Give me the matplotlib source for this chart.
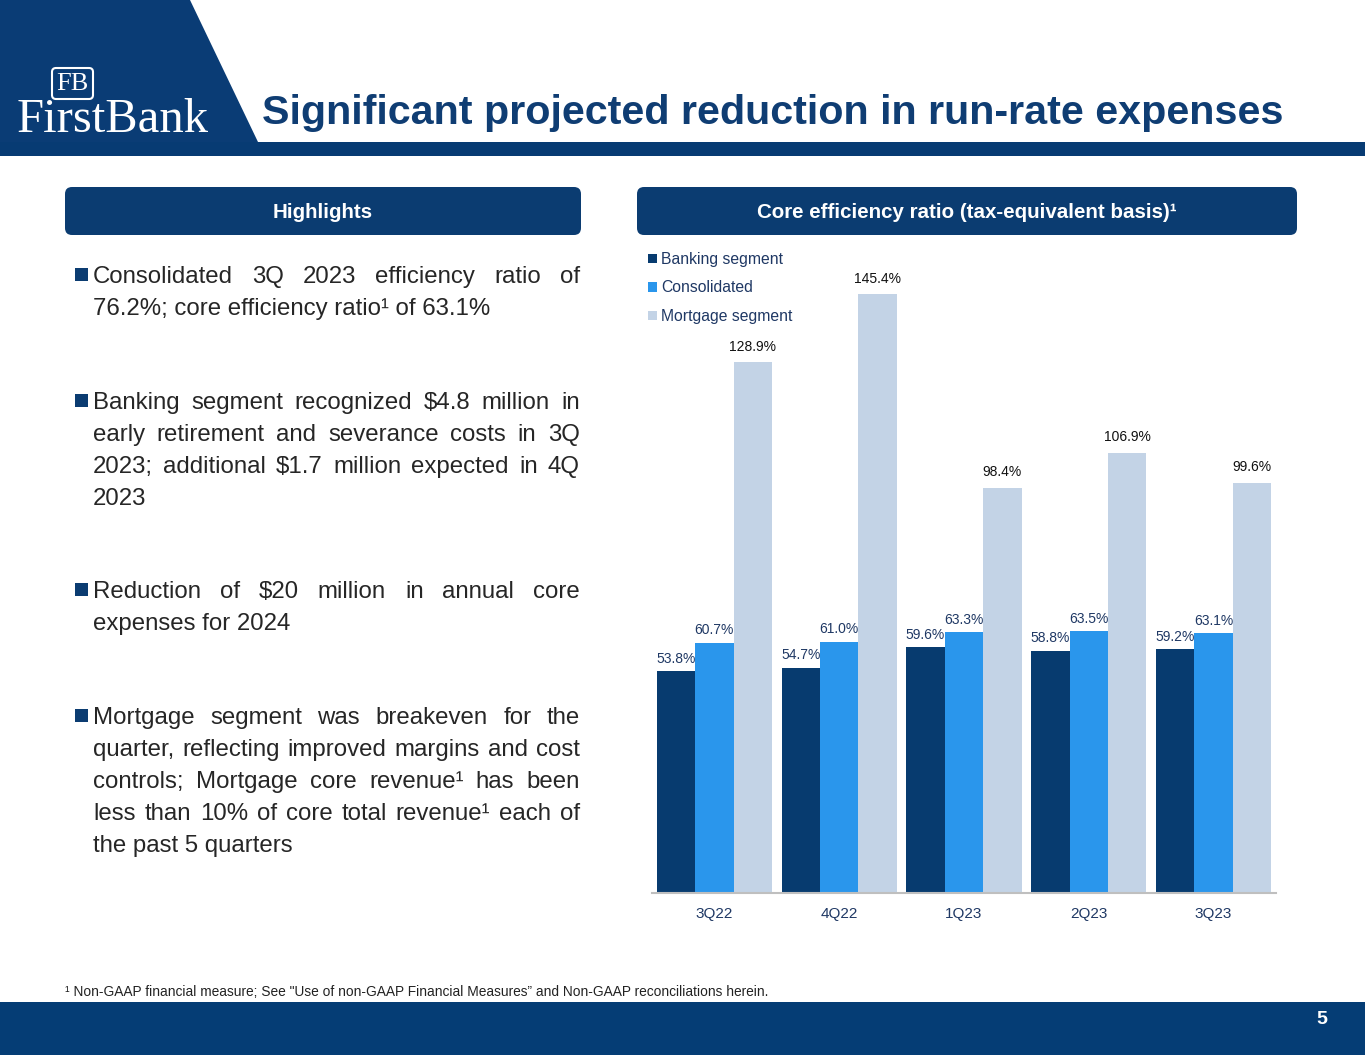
import matplotlib
matplotlib.use('Agg')
import matplotlib.pyplot as plt
from matplotlib.patches import Polygon, Rectangle, FancyBboxPatch
import numpy as np

plt.rcParams['font.family'] = ['Liberation Sans', 'DejaVu Sans']

# data
quarters = ['3Q22', '4Q22', '1Q23', '2Q23', '3Q23']
banking = [53.8, 54.7, 59.6, 58.8, 59.2]
consolidated = [60.7, 61.0, 63.3, 63.5, 63.1]
mortgage = [128.9, 145.4, 98.4, 106.9, 99.6]
series_names = ['Banking segment', 'Consolidated', 'Mortgage segment']

bullets = [
    ['Consolidated 3Q 2023 efficiency ratio of',
     '76.2%; core efficiency ratio\u00b9 of 63.1%'],
    ['Banking segment recognized $4.8 million in',
     'early retirement and severance costs in 3Q',
     '2023; additional $1.7 million expected in 4Q',
     '2023'],
    ['Reduction of $20 million in annual core',
     'expenses for 2024'],
    ['Mortgage segment was breakeven for the',
     'quarter, reflecting improved margins and cost',
     'controls; Mortgage core revenue\u00b9 has been',
     'less than 10% of core total revenue\u00b9 each of',
     'the past 5 quarters'],
]
bullet_tops = [283, 409, 598, 724]

title = 'Significant projected reduction in run-rate expenses'
footnote = ('\u00b9 Non-GAAP financial measure; See "Use of non-GAAP Financial Measures\u201d '
            'and Non-GAAP reconciliations herein.')

# colours
NAVY = '#0B3C71'
C_BANK = '#073B6F'
C_CONS = '#2A96EC'
C_MORT = '#C3D3E6'
TXT_NAVY = '#1F3864'

W, H = 1365, 1055
fig = plt.figure(figsize=(W / 100, H / 100), dpi=100, facecolor='white')

# background layer in pixel coordinates
bg = fig.add_axes([0, 0, 1, 1])
bg.set_xlim(0, W)
bg.set_ylim(H, 0)
bg.axis('off')

# top banner
bg.add_patch(Polygon([(0, 0), (190, 0), (258, 142), (0, 142)], closed=True,
                     color='#0A3C75', lw=0))
bg.add_patch(Rectangle((0, 142), W, 14, color='#073B73', lw=0))
bg.text(262, 124, title, fontsize=29.7, fontweight='bold', color='#0F3D73', va='baseline')

# logo
bg.add_patch(FancyBboxPatch((52, 68), 41, 31, boxstyle='round,pad=0,rounding_size=4',
                            fc='none', ec='white', lw=1.5))
bg.text(72.5, 84, 'FB', fontsize=19, color='white', family='Liberation Serif',
        ha='center', va='center')
bg.text(17, 132, 'FirstBank', fontsize=35, color='white', family='Liberation Serif',
        va='baseline')

# section headers
for (x0, x1, txt) in [(65, 581, 'Highlights'),
                      (637, 1297, 'Core efficiency ratio (tax-equivalent basis)\u00b9')]:
    bg.add_patch(FancyBboxPatch((x0, 187), x1 - x0, 48,
                                boxstyle='round,pad=0,rounding_size=7', fc=NAVY, ec='none'))
    bg.text((x0 + x1) / 2, 212, txt, fontsize=14.8, fontweight='bold', color='white',
            ha='center', va='center')

# justified bullet text
renderer = fig.canvas.get_renderer()
body_kw = dict(fontsize=17.3, color='#262626', va='baseline')
LX0, LX1, LSTEP = 93, 580, 32


def put_line(line, y, last):
    words = line.split(' ')
    if last or len(words) == 1:
        bg.text(LX0, y, line, **body_kw)
        return
    widths = []
    for w in words:
        t = bg.text(0, 0, w, **body_kw)
        widths.append(t.get_window_extent(renderer).width)
        t.remove()
    gap = (LX1 - LX0 - sum(widths)) / (len(words) - 1)
    x = LX0
    for w, wd in zip(words, widths):
        bg.text(x, y, w, **body_kw)
        x += wd + gap


for lines, y0 in zip(bullets, bullet_tops):
    bg.add_patch(Rectangle((75, y0 - 15), 13, 13, color=NAVY, lw=0))
    for i, line in enumerate(lines):
        put_line(line, y0 + i * LSTEP, i == len(lines) - 1)

# footer
bg.text(65, 992, footnote, fontsize=9.9, color='#222222', va='center')
bg.add_patch(Rectangle((0, 1002), W, H - 1002, color='#053D75', lw=0))
bg.text(1322, 1020, '5', fontsize=14, fontweight='bold', color='white',
        ha='center', va='center')

# chart
ax = fig.add_axes([652 / W, (H - 893) / H, (1276 - 652) / W, (893 - 250) / H])
ax.set_facecolor('none')
x = np.arange(len(quarters))
bw = 0.308
b1 = ax.bar(x - bw, banking, bw, color=C_BANK, label=series_names[0])
b2 = ax.bar(x, consolidated, bw, color=C_CONS, label=series_names[1])
b3 = ax.bar(x + bw, mortgage, bw, color=C_MORT, label=series_names[2])

ax.bar_label(b1, labels=[f'{v:.1f}%' for v in banking], padding=4, fontsize=10, color=TXT_NAVY)
ax.bar_label(b2, labels=[f'{v:.1f}%' for v in consolidated], padding=4, fontsize=10, color=TXT_NAVY)
ax.bar_label(b3, labels=[f'{v:.1f}%' for v in mortgage], padding=6, fontsize=10, color='#111111')

ax.set_xlim(-0.5, 4.5)
ax.set_ylim(0, 156.1)
ax.set_xticks(x)
ax.set_xticklabels(quarters)
ax.set_yticks([])
ax.tick_params(axis='x', length=0, pad=10, labelsize=11, labelcolor=TXT_NAVY)
for s in ['top', 'right', 'left']:
    ax.spines[s].set_visible(False)
ax.spines['bottom'].set_color('#BFBFBF')
ax.spines['bottom'].set_linewidth(1.5)

ax.legend(loc='upper left', bbox_to_anchor=(648, 252), bbox_transform=bg.transData,
          frameon=False, fontsize=11.3, handlelength=0.55, handleheight=0.55,
          handletextpad=0.3, labelspacing=0.86, borderaxespad=0, borderpad=0,
          labelcolor=TXT_NAVY)

fig.savefig('out.png', dpi=100, facecolor='white')
